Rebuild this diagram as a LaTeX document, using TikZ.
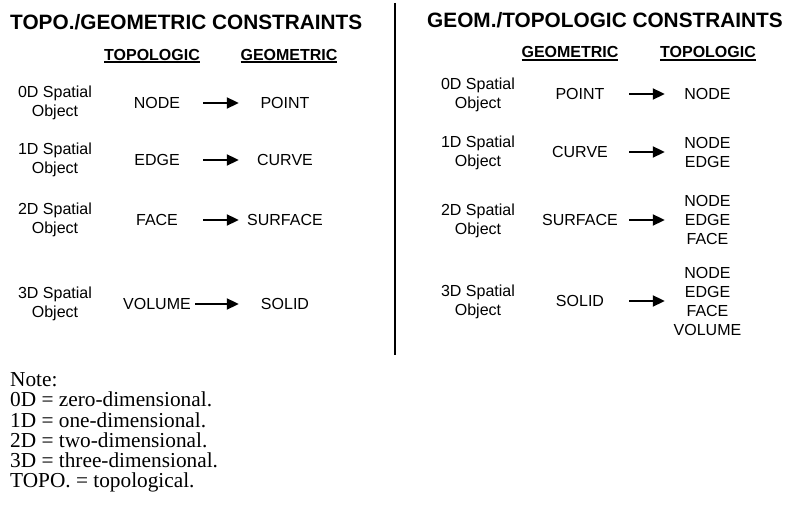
\documentclass[tikz,border=0pt]{standalone}
\usepackage{fontspec}
\setmainfont{Liberation Serif}
\setsansfont{Liberation Sans}
\usepackage{tikz}
\usetikzlibrary{arrows.meta}
\usepackage{xcolor}
\definecolor{tcink}{RGB}{0,0,0}
\newcommand{\ulhead}[1]{\leavevmode\setbox0=\hbox{#1}\rlap{\rule[-3pt]{\wd0}{1.7pt}}\box0}

\begin{document}
\begin{tikzpicture}[
  x=1pt, y=-1pt,
  font=\fontsize{16}{19}\selectfont\sffamily, text=tcink,
  title/.style={font=\fontsize{20.8}{24}\selectfont\sffamily\bfseries, anchor=west, inner sep=0pt},
  colhead/.style={font=\fontsize{16}{19}\selectfont\sffamily\bfseries, inner sep=0pt},
  objlbl/.style={align=center, inner sep=0pt},
  lterm/.style={align=center, inner sep=0pt, minimum width=92pt},
  rgeo/.style={align=center, inner sep=0pt, minimum width=98pt},
  rtopo/.style={align=center, inner sep=0pt, minimum width=85pt},
  arr/.style={-{Triangle[length=12pt,width=11pt]}, line width=2pt, tcink},
  divider/.style={line width=2pt, tcink},
  note/.style={font=\fontsize{21.3}{20.2}\selectfont\rmfamily, align=left, anchor=north west, inner sep=0pt}
]
\useasboundingbox (0,0) rectangle (785,510);

% left half: topologic -> geometric
\node[title] (ttl) at (10,22.5) {TOPO./GEOMETRIC CONSTRAINTS};
\node[colhead] (lh1) at (152,56) {\ulhead{TOPOLOGIC}};
\node[colhead] (lh2) at (289,56) {\ulhead{GEOMETRIC}};

\node[objlbl] (lo0) at (55,103) {0D Spatial\\Object};
\node[lterm] (lt0) at (157,103) {NODE};
\node[lterm] (lg0) at (285,103) {POINT};
\draw[arr] (lt0) -- (lg0);

\node[objlbl] (lo1) at (55,160) {1D Spatial\\Object};
\node[lterm] (lt1) at (157,160) {EDGE};
\node[lterm] (lg1) at (285,160) {CURVE};
\draw[arr] (lt1) -- (lg1);

\node[objlbl] (lo2) at (55,220) {2D Spatial\\Object};
\node[lterm] (lt2) at (157,220) {FACE};
\node[lterm] (lg2) at (285,220) {SURFACE};
\draw[arr] (lt2) -- (lg2);

\node[objlbl] (lo3) at (55,304) {3D Spatial\\Object};
\node[lterm] (lt3) at (157,304) {VOLUME};
\node[lterm] (lg3) at (285,304) {SOLID};
\draw[arr, shorten <=-8pt] (lt3) -- (lg3);

% divider
\coordinate (dtop) at (395,3);
\coordinate (dbot) at (395,355);
\draw[divider] (dtop) -- (dbot);

% right half: geometric -> topologic
\node[title] (ttr) at (427,20) {GEOM./TOPOLOGIC CONSTRAINTS};
\node[colhead] (rh1) at (570,53.5) {\ulhead{GEOMETRIC}};
\node[colhead] (rh2) at (708,53.5) {\ulhead{TOPOLOGIC}};

\node[objlbl] (ro0) at (478,95) {0D Spatial\\Object};
\node[rgeo] (rg0) at (580,94) {POINT};
\node[rtopo] (rt0) at (707.5,94) {NODE};
\draw[arr] (rg0) -- (rt0);

\node[objlbl] (ro1) at (478,153) {1D Spatial\\Object};
\node[rgeo] (rg1) at (580,152) {CURVE};
\node[rtopo] (rt1) at (707.5,152) {NODE\\EDGE};
\draw[arr] (rg1) -- (rt1);

\node[objlbl] (ro2) at (478,221) {2D Spatial\\Object};
\node[rgeo] (rg2) at (580,220) {SURFACE};
\node[rtopo] (rt2) at (707.5,220) {NODE\\EDGE\\FACE};
\draw[arr] (rg2) -- (rt2);

\node[objlbl] (ro3) at (478,302) {3D Spatial\\Object};
\node[rgeo] (rg3) at (580,301) {SOLID};
\node[rtopo] (rt3) at (707.5,301) {NODE\\EDGE\\FACE\\VOLUME};
\draw[arr] (rg3) -- (rt3);

% abbreviations
\node[note] (nts) at (10,372.6) {Note:\\0D = zero-dimensional.\\1D = one-dimensional.\\2D = two-dimensional.\\3D = three-dimensional.\\TOPO. = topological.};
\end{tikzpicture}
\end{document}
